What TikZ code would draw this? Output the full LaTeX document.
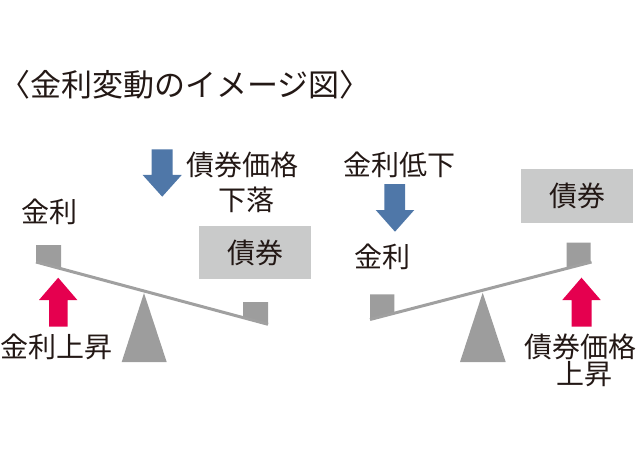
\documentclass[tikz,border=0pt]{standalone}
\usepackage{fontspec}
\setmainfont{Noto Sans CJK JP}
\definecolor{textc}{HTML}{231815}
\definecolor{grayc}{HTML}{9D9D9D}
\definecolor{beamc}{HTML}{A0A0A0}
\definecolor{boxc}{HTML}{C9CACA}
\definecolor{bluec}{HTML}{4F77A8}
\definecolor{redc}{HTML}{E5004F}
\begin{document}
\begin{tikzpicture}[x=1pt,y=-1pt,
  lbl/.style={inner sep=0pt, text=textc, font=\fontsize{28}{30}\selectfont},
  ttl/.style={inner sep=0pt, text=textc, font=\fontsize{31}{33}\selectfont},
  bondbox/.style={lbl, fill=boxc, minimum width=112pt, minimum height=53pt},
  weight/.style={fill=grayc},
  fulcrum/.style={fill=grayc},
  beam/.style={draw=beamc, line width=3pt},
  downarrow/.style={fill=bluec},
  uparrow/.style={fill=redc}]
\useasboundingbox (0,0) rectangle (640,468);

% title
\node[ttl] (title) at (185,85) {〈金利変動のイメージ図〉};

% ---------- left seesaw ----------
\fill[weight] (36,245) -- (61,245) -- (61,268.7) -- (36,262) -- cycle;
\fill[weight] (243,302) -- (268,302) -- (268,324.3) -- (243,317.6) -- cycle;
\draw[beam] (36,262) -- (268,324.3);
\fill[fulcrum] (144,293) -- (166.7,362) -- (121.7,362) -- cycle;

\node[bondbox] (bondL) at (255,252.5) {債券};
\node[lbl] (kinriL) at (49,212) {金利};
\node[lbl] (riseL) at (57,347) {金利上昇};
\node[lbl] (priceL1) at (242,165) {債券価格};
\node[lbl] (priceL2) at (246,200) {下落};

\fill[downarrow] (151.7,149.3) -- (172.7,149.3) -- (172.7,175) -- (181.7,175)
  -- (162.2,196.7) -- (142.7,175) -- (151.7,175) -- cycle;
\fill[uparrow] (49,326.7) -- (67.7,326.7) -- (67.7,300) -- (77.3,300)
  -- (58.2,277.7) -- (39,300) -- (49,300) -- cycle;

% ---------- right seesaw ----------
\fill[weight] (370,294.3) -- (394.3,294.3) -- (394.3,313.2) -- (370,319.5) -- cycle;
\fill[weight] (566.7,242.7) -- (590.7,242.7) -- (590.7,262.1) -- (566.7,268.3) -- cycle;
\draw[beam] (370,319.5) -- (591.5,262);
\fill[fulcrum] (482.7,292.7) -- (505.7,362) -- (460,362) -- cycle;

\node[bondbox] (bondR) at (577,196) {債券};
\node[lbl] (fallR) at (399,165) {金利低下};
\node[lbl] (kinriR) at (382,257) {金利};
\node[lbl] (priceR1) at (580.5,347) {債券価格};
\node[lbl] (priceR2) at (584.5,374) {上昇};

\fill[downarrow] (384.3,184) -- (405,184) -- (405,210) -- (414.3,210)
  -- (395,231.7) -- (375.7,210) -- (384.3,210) -- cycle;
\fill[uparrow] (571.7,326.7) -- (591.7,326.7) -- (591.7,300) -- (600.7,300)
  -- (581.5,277.7) -- (562.3,300) -- (571.7,300) -- cycle;
\end{tikzpicture}
\end{document}
